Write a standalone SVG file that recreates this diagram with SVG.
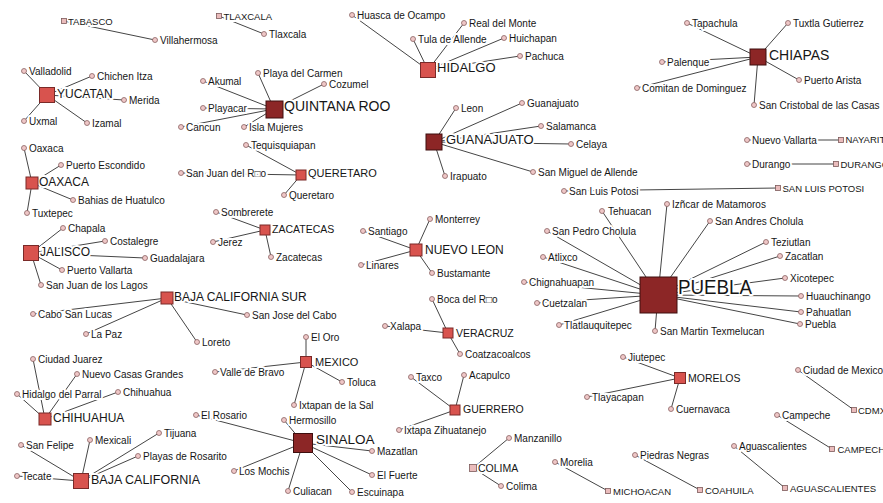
<svg xmlns="http://www.w3.org/2000/svg" width="883" height="503" viewBox="0 0 883 503">
<style>
.e line{stroke:#454545;stroke-width:1}
.c{fill:#efc7c7;stroke:#8a6262;stroke-width:.8}
.d{fill:#8c2626;stroke:#3e0e0e;stroke-width:1}
.m{fill:#d8534e;stroke:#7a2a28;stroke-width:1}
.p{fill:#eabcbc;stroke:#7d5a5a;stroke-width:.8}
text{font-family:"Liberation Sans",Arial,"DejaVu Sans",sans-serif;fill:#161616;paint-order:stroke;stroke:#fff;stroke-width:4px;stroke-linejoin:round}
.t{font-size:10px}
</style>
<rect width="883" height="503" fill="#fff"/>
<g id="edges" class="e">
<line x1="64" y1="21" x2="155" y2="40"/>
<line x1="219" y1="16" x2="264" y2="34"/>
<line x1="428" y1="70" x2="352" y2="15"/><line x1="428" y1="70" x2="413" y2="39"/><line x1="428" y1="70" x2="464" y2="23"/><line x1="428" y1="70" x2="504" y2="38"/><line x1="428" y1="70" x2="520" y2="56"/>
<line x1="758" y1="57" x2="687" y2="23"/><line x1="758" y1="57" x2="788" y2="23"/><line x1="758" y1="57" x2="662" y2="62"/><line x1="758" y1="57" x2="637" y2="88"/><line x1="758" y1="57" x2="799" y2="80"/><line x1="758" y1="57" x2="754" y2="105"/>
<line x1="47" y1="95" x2="24" y2="71"/><line x1="47" y1="95" x2="92" y2="76"/><line x1="47" y1="95" x2="124" y2="100"/><line x1="47" y1="95" x2="24" y2="121"/><line x1="47" y1="95" x2="87" y2="123"/>
<line x1="274" y1="109" x2="203" y2="81"/><line x1="274" y1="109" x2="258" y2="73"/><line x1="274" y1="109" x2="324" y2="84"/><line x1="274" y1="109" x2="203" y2="108"/><line x1="274" y1="109" x2="181" y2="127"/><line x1="274" y1="109" x2="244" y2="127"/>
<line x1="434" y1="142" x2="456" y2="108"/><line x1="434" y1="142" x2="522" y2="103"/><line x1="434" y1="142" x2="541" y2="126"/><line x1="434" y1="142" x2="571" y2="144"/><line x1="434" y1="142" x2="533" y2="172"/><line x1="434" y1="142" x2="445" y2="176"/>
<line x1="32" y1="183" x2="24" y2="148"/><line x1="32" y1="183" x2="61" y2="165"/><line x1="32" y1="183" x2="73" y2="200"/><line x1="32" y1="183" x2="27" y2="213"/>
<line x1="301" y1="175" x2="246" y2="145"/><line x1="301" y1="175" x2="181" y2="173"/><line x1="301" y1="175" x2="284" y2="195"/>
<line x1="841" y1="140" x2="747" y2="140"/>
<line x1="836" y1="164" x2="747" y2="164"/>
<line x1="778" y1="188" x2="564" y2="191"/>
<line x1="265" y1="230" x2="216" y2="212"/><line x1="265" y1="230" x2="213" y2="242"/><line x1="265" y1="230" x2="271" y2="257"/>
<line x1="416" y1="250" x2="430" y2="219"/><line x1="416" y1="250" x2="363" y2="231"/><line x1="416" y1="250" x2="361" y2="265"/><line x1="416" y1="250" x2="432" y2="273"/>
<line x1="31" y1="253" x2="63" y2="228"/><line x1="31" y1="253" x2="105" y2="241"/><line x1="31" y1="253" x2="145" y2="258"/><line x1="31" y1="253" x2="62" y2="270"/><line x1="31" y1="253" x2="41" y2="285"/>
<line x1="167" y1="298" x2="33" y2="314"/><line x1="167" y1="298" x2="86" y2="334"/><line x1="167" y1="298" x2="197" y2="342"/><line x1="167" y1="298" x2="247" y2="315"/>
<line x1="658" y1="295" x2="602" y2="211"/><line x1="658" y1="295" x2="547" y2="231"/><line x1="658" y1="295" x2="543" y2="257"/><line x1="658" y1="295" x2="524" y2="282"/><line x1="658" y1="295" x2="537" y2="303"/><line x1="658" y1="295" x2="559" y2="325"/><line x1="658" y1="295" x2="655" y2="331"/><line x1="658" y1="295" x2="667" y2="204"/><line x1="658" y1="295" x2="710" y2="221"/><line x1="658" y1="295" x2="766" y2="242"/><line x1="658" y1="295" x2="780" y2="256"/><line x1="658" y1="295" x2="785" y2="278"/><line x1="658" y1="295" x2="801" y2="296"/><line x1="658" y1="295" x2="801" y2="312"/><line x1="658" y1="295" x2="800" y2="324"/>
<line x1="448" y1="333" x2="432" y2="299"/><line x1="448" y1="333" x2="385" y2="326"/><line x1="448" y1="333" x2="460" y2="354"/>
<line x1="306" y1="362" x2="306" y2="337"/><line x1="306" y1="362" x2="215" y2="372"/><line x1="306" y1="362" x2="342" y2="382"/><line x1="306" y1="362" x2="294" y2="405"/>
<line x1="680" y1="378" x2="623" y2="357"/><line x1="680" y1="378" x2="587" y2="397"/><line x1="680" y1="378" x2="671" y2="409"/>
<line x1="45" y1="419" x2="33" y2="359"/><line x1="45" y1="419" x2="77" y2="374"/><line x1="45" y1="419" x2="17" y2="394"/><line x1="45" y1="419" x2="118" y2="392"/>
<line x1="455" y1="410" x2="411" y2="377"/><line x1="455" y1="410" x2="464" y2="375"/><line x1="455" y1="410" x2="399" y2="430"/>
<line x1="303" y1="443" x2="196" y2="415"/><line x1="303" y1="443" x2="284" y2="420"/><line x1="303" y1="443" x2="372" y2="451"/><line x1="303" y1="443" x2="234" y2="471"/><line x1="303" y1="443" x2="372" y2="475"/><line x1="303" y1="443" x2="288" y2="491"/><line x1="303" y1="443" x2="352" y2="492"/>
<line x1="81" y1="481" x2="21" y2="445"/><line x1="81" y1="481" x2="90" y2="440"/><line x1="81" y1="481" x2="159" y2="433"/><line x1="81" y1="481" x2="138" y2="456"/><line x1="81" y1="481" x2="17" y2="476"/>
<line x1="473" y1="468" x2="509" y2="438"/><line x1="473" y1="468" x2="501" y2="486"/>
<line x1="608" y1="491" x2="555" y2="462"/>
<line x1="700" y1="490" x2="635" y2="455"/>
<line x1="785" y1="488" x2="734" y2="446"/>
<line x1="832" y1="449" x2="777" y2="415"/>
<line x1="854" y1="410" x2="798" y2="370"/>
</g>
<g id="cities">
<g id="villahermosa"><text class="t" x="160" y="43.5">Villahermosa</text><circle class="c" cx="155" cy="40" r="2.5"/></g>
<g id="tlaxcala-c"><text class="t" x="269" y="37.5">Tlaxcala</text><circle class="c" cx="264" cy="34" r="2.5"/></g>
<g id="huasca"><text class="t" x="357" y="18.5">Huasca de Ocampo</text><circle class="c" cx="352" cy="15" r="2.5"/></g>
<g id="tula"><text class="t" x="418" y="42.5">Tula de Allende</text><circle class="c" cx="413" cy="39" r="2.5"/></g>
<g id="realdelmonte"><text class="t" x="469" y="26.5">Real del Monte</text><circle class="c" cx="464" cy="23" r="2.5"/></g>
<g id="huichapan"><text class="t" x="509" y="41.5">Huichapan</text><circle class="c" cx="504" cy="38" r="2.5"/></g>
<g id="pachuca"><text class="t" x="525" y="59.5">Pachuca</text><circle class="c" cx="520" cy="56" r="2.5"/></g>
<g id="tapachula"><text class="t" x="692" y="26.5">Tapachula</text><circle class="c" cx="687" cy="23" r="2.5"/></g>
<g id="tuxtla"><text class="t" x="793" y="26.5">Tuxtla Gutierrez</text><circle class="c" cx="788" cy="23" r="2.5"/></g>
<g id="palenque"><text class="t" x="667" y="65.5">Palenque</text><circle class="c" cx="662" cy="62" r="2.5"/></g>
<g id="comitan"><text class="t" x="642" y="91.5">Comitan de Dominguez</text><circle class="c" cx="637" cy="88" r="2.5"/></g>
<g id="puertoarista"><text class="t" x="804" y="83.5">Puerto Arista</text><circle class="c" cx="799" cy="80" r="2.5"/></g>
<g id="sancristobal"><text class="t" x="759" y="108.5">San Cristobal de las Casas</text><circle class="c" cx="754" cy="105" r="2.5"/></g>
<g id="valladolid"><text class="t" x="29" y="74.5">Valladolid</text><circle class="c" cx="24" cy="71" r="2.5"/></g>
<g id="chichenitza"><text class="t" x="97" y="79.5">Chichen Itza</text><circle class="c" cx="92" cy="76" r="2.5"/></g>
<g id="merida"><text class="t" x="129" y="103.5">Merida</text><circle class="c" cx="124" cy="100" r="2.5"/></g>
<g id="uxmal"><text class="t" x="29" y="124.5">Uxmal</text><circle class="c" cx="24" cy="121" r="2.5"/></g>
<g id="izamal"><text class="t" x="92" y="126.5">Izamal</text><circle class="c" cx="87" cy="123" r="2.5"/></g>
<g id="akumal"><text class="t" x="208" y="84.5">Akumal</text><circle class="c" cx="203" cy="81" r="2.5"/></g>
<g id="playadelcarmen"><text class="t" x="263" y="76.5">Playa del Carmen</text><circle class="c" cx="258" cy="73" r="2.5"/></g>
<g id="cozumel"><text class="t" x="329" y="87.5">Cozumel</text><circle class="c" cx="324" cy="84" r="2.5"/></g>
<g id="playacar"><text class="t" x="208" y="111.5">Playacar</text><circle class="c" cx="203" cy="108" r="2.5"/></g>
<g id="cancun"><text class="t" x="186" y="130.5">Cancun</text><circle class="c" cx="181" cy="127" r="2.5"/></g>
<g id="islamujeres"><text class="t" x="249" y="130.5">Isla Mujeres</text><circle class="c" cx="244" cy="127" r="2.5"/></g>
<g id="leon"><text class="t" x="461" y="111.5">Leon</text><circle class="c" cx="456" cy="108" r="2.5"/></g>
<g id="guanajuato-c"><text class="t" x="527" y="106.5">Guanajuato</text><circle class="c" cx="522" cy="103" r="2.5"/></g>
<g id="salamanca"><text class="t" x="546" y="129.5">Salamanca</text><circle class="c" cx="541" cy="126" r="2.5"/></g>
<g id="celaya"><text class="t" x="576" y="147.5">Celaya</text><circle class="c" cx="571" cy="144" r="2.5"/></g>
<g id="sanmiguel"><text class="t" x="538" y="175.5">San Miguel de Allende</text><circle class="c" cx="533" cy="172" r="2.5"/></g>
<g id="irapuato"><text class="t" x="450" y="179.5">Irapuato</text><circle class="c" cx="445" cy="176" r="2.5"/></g>
<g id="oaxaca-c"><text class="t" x="29" y="151.5">Oaxaca</text><circle class="c" cx="24" cy="148" r="2.5"/></g>
<g id="puertoescondido"><text class="t" x="66" y="168.5">Puerto Escondido</text><circle class="c" cx="61" cy="165" r="2.5"/></g>
<g id="huatulco"><text class="t" x="78" y="203.5">Bahias de Huatulco</text><circle class="c" cx="73" cy="200" r="2.5"/></g>
<g id="tuxtepec"><text class="t" x="32" y="216.5">Tuxtepec</text><circle class="c" cx="27" cy="213" r="2.5"/></g>
<g id="tequisquiapan"><text class="t" x="251" y="148.5">Tequisquiapan</text><circle class="c" cx="246" cy="145" r="2.5"/></g>
<g id="sanjuandelrio"><text class="t" x="186" y="176.5">San Juan del R□o</text><circle class="c" cx="181" cy="173" r="2.5"/></g>
<g id="queretaro-c"><text class="t" x="289" y="198.5">Queretaro</text><circle class="c" cx="284" cy="195" r="2.5"/></g>
<g id="nuevovallarta"><text class="t" x="752" y="143.5">Nuevo Vallarta</text><circle class="c" cx="747" cy="140" r="2.5"/></g>
<g id="durango-c"><text class="t" x="752" y="167.5">Durango</text><circle class="c" cx="747" cy="164" r="2.5"/></g>
<g id="sanluispotosi-c"><text class="t" x="569" y="194.5">San Luis Potosi</text><circle class="c" cx="564" cy="191" r="2.5"/></g>
<g id="sombrerete"><text class="t" x="221" y="215.5">Sombrerete</text><circle class="c" cx="216" cy="212" r="2.5"/></g>
<g id="jerez"><text class="t" x="218" y="245.5">Jerez</text><circle class="c" cx="213" cy="242" r="2.5"/></g>
<g id="zacatecas-c"><text class="t" x="276" y="260.5">Zacatecas</text><circle class="c" cx="271" cy="257" r="2.5"/></g>
<g id="monterrey"><text class="t" x="435" y="222.5">Monterrey</text><circle class="c" cx="430" cy="219" r="2.5"/></g>
<g id="santiago"><text class="t" x="368" y="234.5">Santiago</text><circle class="c" cx="363" cy="231" r="2.5"/></g>
<g id="linares"><text class="t" x="366" y="268.5">Linares</text><circle class="c" cx="361" cy="265" r="2.5"/></g>
<g id="bustamante"><text class="t" x="437" y="276.5">Bustamante</text><circle class="c" cx="432" cy="273" r="2.5"/></g>
<g id="chapala"><text class="t" x="68" y="231.5">Chapala</text><circle class="c" cx="63" cy="228" r="2.5"/></g>
<g id="costalegre"><text class="t" x="110" y="244.5">Costalegre</text><circle class="c" cx="105" cy="241" r="2.5"/></g>
<g id="guadalajara"><text class="t" x="150" y="261.5">Guadalajara</text><circle class="c" cx="145" cy="258" r="2.5"/></g>
<g id="puertovallarta"><text class="t" x="67" y="273.5">Puerto Vallarta</text><circle class="c" cx="62" cy="270" r="2.5"/></g>
<g id="sanjuandeloslagos"><text class="t" x="46" y="288.5">San Juan de los Lagos</text><circle class="c" cx="41" cy="285" r="2.5"/></g>
<g id="cabosanlucas"><text class="t" x="38" y="317.5">Cabo San Lucas</text><circle class="c" cx="33" cy="314" r="2.5"/></g>
<g id="lapaz"><text class="t" x="91" y="337.5">La Paz</text><circle class="c" cx="86" cy="334" r="2.5"/></g>
<g id="loreto"><text class="t" x="202" y="345.5">Loreto</text><circle class="c" cx="197" cy="342" r="2.5"/></g>
<g id="sanjosedelcabo"><text class="t" x="252" y="318.5">San Jose del Cabo</text><circle class="c" cx="247" cy="315" r="2.5"/></g>
<g id="tehuacan"><text class="t" x="608" y="214.5">Tehuacan</text><circle class="c" cx="602" cy="211" r="2.5"/></g>
<g id="sanpedrocholula"><text class="t" x="552" y="234.5">San Pedro Cholula</text><circle class="c" cx="547" cy="231" r="2.5"/></g>
<g id="atlixco"><text class="t" x="548" y="260.5">Atlixco</text><circle class="c" cx="543" cy="257" r="2.5"/></g>
<g id="chignahuapan"><text class="t" x="529" y="285.5">Chignahuapan</text><circle class="c" cx="524" cy="282" r="2.5"/></g>
<g id="cuetzalan"><text class="t" x="542" y="306.5">Cuetzalan</text><circle class="c" cx="537" cy="303" r="2.5"/></g>
<g id="tlatlauquitepec"><text class="t" x="564" y="328.5">Tlatlauquitepec</text><circle class="c" cx="559" cy="325" r="2.5"/></g>
<g id="sanmartin"><text class="t" x="660" y="334.5">San Martin Texmelucan</text><circle class="c" cx="655" cy="331" r="2.5"/></g>
<g id="izucar"><text class="t" x="672" y="207.5">Izñcar de Matamoros</text><circle class="c" cx="667" cy="204" r="2.5"/></g>
<g id="sanandrescholula"><text class="t" x="715" y="224.5">San Andres Cholula</text><circle class="c" cx="710" cy="221" r="2.5"/></g>
<g id="teziutlan"><text class="t" x="771" y="245.5">Teziutlan</text><circle class="c" cx="766" cy="242" r="2.5"/></g>
<g id="zacatlan"><text class="t" x="785" y="259.5">Zacatlan</text><circle class="c" cx="780" cy="256" r="2.5"/></g>
<g id="xicotepec"><text class="t" x="790" y="281.5">Xicotepec</text><circle class="c" cx="785" cy="278" r="2.5"/></g>
<g id="huauchinango"><text class="t" x="806" y="299.5">Huauchinango</text><circle class="c" cx="801" cy="296" r="2.5"/></g>
<g id="pahuatlan"><text class="t" x="806" y="315.5">Pahuatlan</text><circle class="c" cx="801" cy="312" r="2.5"/></g>
<g id="puebla-c"><text class="t" x="805" y="327.5">Puebla</text><circle class="c" cx="800" cy="324" r="2.5"/></g>
<g id="bocadelrio"><text class="t" x="437" y="302.5">Boca del R□o</text><circle class="c" cx="432" cy="299" r="2.5"/></g>
<g id="xalapa"><text class="t" x="390" y="329.5">Xalapa</text><circle class="c" cx="385" cy="326" r="2.5"/></g>
<g id="coatzacoalcos"><text class="t" x="465" y="357.5">Coatzacoalcos</text><circle class="c" cx="460" cy="354" r="2.5"/></g>
<g id="eloro"><text class="t" x="311" y="340.5">El Oro</text><circle class="c" cx="306" cy="337" r="2.5"/></g>
<g id="valledebravo"><text class="t" x="220" y="375.5">Valle de Bravo</text><circle class="c" cx="215" cy="372" r="2.5"/></g>
<g id="toluca"><text class="t" x="347" y="385.5">Toluca</text><circle class="c" cx="342" cy="382" r="2.5"/></g>
<g id="ixtapan"><text class="t" x="299" y="408.5">Ixtapan de la Sal</text><circle class="c" cx="294" cy="405" r="2.5"/></g>
<g id="jiutepec"><text class="t" x="628" y="360.5">Jiutepec</text><circle class="c" cx="623" cy="357" r="2.5"/></g>
<g id="tlayacapan"><text class="t" x="592" y="400.5">Tlayacapan</text><circle class="c" cx="587" cy="397" r="2.5"/></g>
<g id="cuernavaca"><text class="t" x="676" y="412.5">Cuernavaca</text><circle class="c" cx="671" cy="409" r="2.5"/></g>
<g id="ciudadjuarez"><text class="t" x="38" y="362.5">Ciudad Juarez</text><circle class="c" cx="33" cy="359" r="2.5"/></g>
<g id="nuevocasasgrandes"><text class="t" x="82" y="377.5">Nuevo Casas Grandes</text><circle class="c" cx="77" cy="374" r="2.5"/></g>
<g id="hidalgodelparral"><text class="t" x="22" y="397.5">Hidalgo del Parral</text><circle class="c" cx="17" cy="394" r="2.5"/></g>
<g id="chihuahua-c"><text class="t" x="123" y="395.5">Chihuahua</text><circle class="c" cx="118" cy="392" r="2.5"/></g>
<g id="taxco"><text class="t" x="416" y="380.5">Taxco</text><circle class="c" cx="411" cy="377" r="2.5"/></g>
<g id="acapulco"><text class="t" x="469" y="378.5">Acapulco</text><circle class="c" cx="464" cy="375" r="2.5"/></g>
<g id="ixtapazihuatanejo"><text class="t" x="404" y="433.5">Ixtapa Zihuatanejo</text><circle class="c" cx="399" cy="430" r="2.5"/></g>
<g id="elrosario"><text class="t" x="201" y="418.5">El Rosario</text><circle class="c" cx="196" cy="415" r="2.5"/></g>
<g id="hermosillo"><text class="t" x="289" y="423.5">Hermosillo</text><circle class="c" cx="284" cy="420" r="2.5"/></g>
<g id="mazatlan"><text class="t" x="377" y="454.5">Mazatlan</text><circle class="c" cx="372" cy="451" r="2.5"/></g>
<g id="losmochis"><text class="t" x="239" y="474.5">Los Mochis</text><circle class="c" cx="234" cy="471" r="2.5"/></g>
<g id="elfuerte"><text class="t" x="377" y="478.5">El Fuerte</text><circle class="c" cx="372" cy="475" r="2.5"/></g>
<g id="culiacan"><text class="t" x="293" y="494.5">Culiacan</text><circle class="c" cx="288" cy="491" r="2.5"/></g>
<g id="escuinapa"><text class="t" x="357" y="495.5">Escuinapa</text><circle class="c" cx="352" cy="492" r="2.5"/></g>
<g id="sanfelipe"><text class="t" x="26" y="448.5">San Felipe</text><circle class="c" cx="21" cy="445" r="2.5"/></g>
<g id="mexicali"><text class="t" x="95" y="443.5">Mexicali</text><circle class="c" cx="90" cy="440" r="2.5"/></g>
<g id="tijuana"><text class="t" x="164" y="436.5">Tijuana</text><circle class="c" cx="159" cy="433" r="2.5"/></g>
<g id="rosarito"><text class="t" x="143" y="459.5">Playas de Rosarito</text><circle class="c" cx="138" cy="456" r="2.5"/></g>
<g id="tecate"><text class="t" x="22" y="479.5">Tecate</text><circle class="c" cx="17" cy="476" r="2.5"/></g>
<g id="manzanillo"><text class="t" x="514" y="441.5">Manzanillo</text><circle class="c" cx="509" cy="438" r="2.5"/></g>
<g id="colima-c"><text class="t" x="506" y="489.5">Colima</text><circle class="c" cx="501" cy="486" r="2.5"/></g>
<g id="morelia"><text class="t" x="560" y="465.5">Morelia</text><circle class="c" cx="555" cy="462" r="2.5"/></g>
<g id="piedrasnegras"><text class="t" x="640" y="458.5">Piedras Negras</text><circle class="c" cx="635" cy="455" r="2.5"/></g>
<g id="aguascalientes-c"><text class="t" x="739" y="449.5">Aguascalientes</text><circle class="c" cx="734" cy="446" r="2.5"/></g>
<g id="campeche-c"><text class="t" x="782" y="418.5">Campeche</text><circle class="c" cx="777" cy="415" r="2.5"/></g>
<g id="ciudaddemexico"><text class="t" x="803" y="373.5">Ciudad de Mexico</text><circle class="c" cx="798" cy="370" r="2.5"/></g>
</g>
<g id="states">
<g id="TABASCO"><text x="68" y="24.5" font-size="9.5">TABASCO</text><rect class="p" x="61.5" y="18.5" width="5" height="5"/></g>
<g id="TLAXCALA"><text x="223.5" y="19.5" font-size="9.5">TLAXCALA</text><rect class="p" x="216.5" y="13.5" width="5" height="5"/></g>
<g id="HIDALGO"><text x="437" y="72" font-size="13">HIDALGO</text><rect class="m" x="420.5" y="62.5" width="15" height="15"/></g>
<g id="CHIAPAS"><text x="769" y="60" font-size="14">CHIAPAS</text><rect class="d" x="750" y="49" width="16" height="16"/></g>
<g id="YUCATAN"><text x="57" y="97.5" font-size="12">YUCATAN</text><rect class="m" x="39.5" y="87.5" width="15" height="15"/></g>
<g id="QUINTANAROO"><text x="284" y="111" font-size="14">QUINTANA ROO</text><rect class="d" x="266" y="101" width="17" height="17"/></g>
<g id="GUANAJUATO"><text x="446" y="143.5" font-size="13">GUANAJUATO</text><rect class="d" x="426" y="134" width="16" height="16"/></g>
<g id="OAXACA"><text x="39" y="186" font-size="12">OAXACA</text><rect class="m" x="26" y="177" width="12" height="12"/></g>
<g id="QUERETARO"><text x="308" y="177" font-size="11">QUERETARO</text><rect class="m" x="296" y="170" width="10" height="10"/></g>
<g id="NAYARIT"><text x="845.5" y="143" font-size="9.5">NAYARIT</text><rect class="p" x="838.5" y="137.5" width="5" height="5"/></g>
<g id="DURANGO"><text x="840.5" y="167.5" font-size="9.5">DURANGO</text><rect class="p" x="833.5" y="161.5" width="5" height="5"/></g>
<g id="SANLUISPOTOSI"><text x="782.5" y="191.5" font-size="9.5">SAN LUIS POTOSI</text><rect class="p" x="775.5" y="185.5" width="5" height="5"/></g>
<g id="ZACATECAS"><text x="272" y="233" font-size="10.5">ZACATECAS</text><rect class="m" x="260" y="225" width="10" height="10"/></g>
<g id="NUEVOLEON"><text x="425" y="254" font-size="12">NUEVO LEON</text><rect class="m" x="410" y="244" width="12" height="12"/></g>
<g id="JALISCO"><text x="40" y="256" font-size="12">JALISCO</text><rect class="m" x="23.5" y="245.5" width="15" height="15"/></g>
<g id="BAJACALIFORNIASUR"><text x="174" y="301" font-size="12">BAJA CALIFORNIA SUR</text><rect class="m" x="161" y="292" width="12" height="12"/></g>
<g id="PUEBLA"><text x="678" y="293.5" font-size="21" textLength="74" lengthAdjust="spacingAndGlyphs">PUEBLA</text><rect class="d" x="640" y="277" width="37" height="36"/></g>
<g id="VERACRUZ"><text x="456" y="336.5" font-size="10.5">VERACRUZ</text><rect class="m" x="443" y="328" width="10" height="10"/></g>
<g id="MEXICO"><text x="315" y="366" font-size="11">MEXICO</text><rect class="m" x="300.5" y="356.5" width="11" height="11"/></g>
<g id="MORELOS"><text x="688" y="381.5" font-size="10.5">MORELOS</text><rect class="m" x="674.5" y="372.5" width="11" height="11"/></g>
<g id="CHIHUAHUA"><text x="53" y="422" font-size="12">CHIHUAHUA</text><rect class="m" x="39" y="413" width="12" height="12"/></g>
<g id="GUERRERO"><text x="463" y="413" font-size="10.5">GUERRERO</text><rect class="m" x="450" y="405" width="10" height="10"/></g>
<g id="SINALOA"><text x="316" y="444" font-size="13.5">SINALOA</text><rect class="d" x="293.5" y="433.5" width="19" height="19"/></g>
<g id="BAJACALIFORNIA"><text x="91" y="484" font-size="12.5">BAJA CALIFORNIA</text><rect class="m" x="73.5" y="473.5" width="15" height="15"/></g>
<g id="COLIMA"><text x="478" y="472" font-size="10.5">COLIMA</text><rect class="p" x="469.5" y="464.5" width="7" height="7"/></g>
<g id="MICHOACAN"><text x="613" y="494.5" font-size="9.5">MICHOACAN</text><rect class="p" x="605.5" y="488.5" width="5" height="5"/></g>
<g id="COAHUILA"><text x="705" y="493.5" font-size="9.5">COAHUILA</text><rect class="p" x="697.5" y="487.5" width="5" height="5"/></g>
<g id="AGUASCALIENTES"><text x="790" y="491.5" font-size="9.5">AGUASCALIENTES</text><rect class="p" x="782.5" y="485.5" width="5" height="5"/></g>
<g id="CAMPECHE"><text x="837.5" y="452.5" font-size="9.5">CAMPECHE</text><rect class="p" x="829.5" y="446.5" width="5" height="5"/></g>
<g id="CDMX"><text x="858" y="413.5" font-size="9.5">CDMX</text><rect class="p" x="851.5" y="407.5" width="5" height="5"/></g>
</g>
</svg>
